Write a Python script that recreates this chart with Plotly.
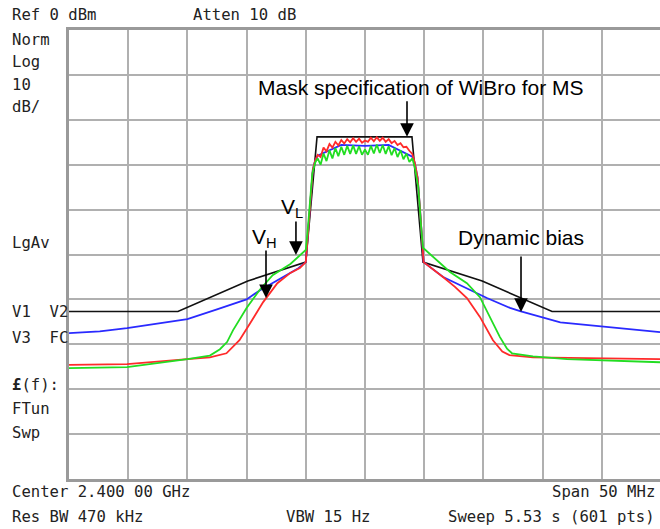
import plotly.graph_objects as go

# ---------------- data (MHz offset from 2.4 GHz, dBm) ----------------
mask_freq = [-25.0, -15.8, -9.9, -5.0, -4.05, 3.97, 4.9, 9.9, 15.8, 24.92]
mask_level = [-62.7, -62.7, -55.9, -51.7, -23.8, -23.8, -51.7, -55.9, -62.7, -62.7]

blue_freq = [-25.0, -22.4, -20.1, -18.2, -15.0, -12.5, -10.0, -8.9, -7.8, -6.9, -5.7, -5.0,
             -4.8, -4.6, -4.4, -4.2, -4.0, -2.0, 0.0, 2.0, 4.0, 4.2, 4.45, 4.65, 4.8,
             4.95, 6.6, 8.6, 10.3, 12.25, 13.1, 16.5, 19.85, 24.92]
blue_level = [-67.5, -67.1, -66.4, -65.7, -64.4, -62.2, -60.0, -58.0, -56.3, -55.0, -53.2, -51.7,
              -45.0, -37.0, -31.0, -29.0, -28.0, -25.6, -25.8, -25.6, -28.2, -29.5, -33.0, -40.0, -47.0,
              -51.7, -55.0, -57.5, -59.7, -61.9, -62.6, -65.1, -66.0, -67.3]

red_freq = [-25.0, -20.1, -15.0, -13.1, -11.7, -10.6, -9.7, -8.6, -7.4, -6.3, -5.5, -5.0,
            -4.8, -4.6, -4.4, -4.2,
            -4.00, -3.75, -3.50, -3.25, -3.00, -2.75, -2.50, -2.25, -2.00, -1.75, -1.50, -1.25,
            -1.00, -0.75, -0.50, -0.25, 0.00, 0.25, 0.50, 0.75, 1.00, 1.25, 1.50, 1.75,
            2.00, 2.25, 2.50, 2.75, 3.00, 3.25, 3.50, 3.75, 4.00,
            4.2, 4.45, 4.65, 4.8, 4.95, 6.59, 7.6, 8.61, 9.71, 10.81, 11.6, 12.2, 14.19, 24.92]
red_level = [-74.6, -74.4, -73.3, -72.9, -72.0, -69.1, -65.3, -60.6, -56.4, -54.1, -53.0, -51.7,
             -45.0, -37.0, -31.0, -29.0,
             -27.8, -28.3, -26.2, -27.0, -25.4, -26.2, -24.9, -25.7, -24.5, -25.3, -24.3, -25.0,
             -24.1, -24.9, -24.2, -25.1, -24.6, -24.9, -24.0, -24.8, -23.9, -24.7, -24.0, -24.9,
             -24.3, -25.2, -24.7, -25.6, -25.2, -26.1, -26.0, -26.9, -27.6,
             -29.5, -33.0, -40.0, -47.0, -51.7, -55.0, -57.2, -59.7, -63.9, -69.1, -71.6, -72.4, -72.9, -73.3]

green_freq = [-25.0, -20.1, -15.0, -13.1, -12.25, -11.65, -11.15, -10.0, -8.9, -7.8, -6.3, -5.3, -5.0,
              -4.85, -4.65, -4.45, -4.2,
              -4.00, -3.75, -3.50, -3.25, -3.00, -2.75, -2.50, -2.25, -2.00, -1.75, -1.50, -1.25,
              -1.00, -0.75, -0.50, -0.25, 0.00, 0.25, 0.50, 0.75, 1.00, 1.25, 1.50, 1.75,
              2.00, 2.25, 2.50, 2.75, 3.00, 3.25, 3.50, 3.75, 4.00,
              4.2, 4.5, 4.75, 4.9, 7.18, 8.61, 9.71, 10.56, 11.40, 12.0, 12.42, 14.19, 17.06, 24.92]
green_level = [-75.3, -75.1, -73.3, -72.5, -71.1, -69.5, -66.9, -61.9, -57.9, -54.6, -52.1, -49.7, -49.0,
               -45.0, -38.0, -32.0, -29.5,
               -28.6, -30.0, -27.5, -29.2, -26.8, -28.6, -26.3, -28.1, -26.0, -27.8, -25.8, -27.6,
               -25.7, -27.6, -25.9, -27.8, -26.6, -27.8, -25.8, -27.5, -25.5, -27.4, -25.6, -27.6,
               -25.9, -27.9, -26.3, -28.3, -26.8, -28.8, -27.5, -29.4, -28.6,
               -30.5, -35.0, -44.0, -48.5, -53.9, -56.4, -59.5, -63.9, -68.4, -71.0, -72.0, -72.7, -73.3, -74.0]

# ---------------- figure ----------------
W, H = 660, 529
ML, MR, MT, MB = 69, 0, 30, 50

fig = go.Figure()
fig.add_trace(go.Scatter(x=mask_freq, y=mask_level, mode="lines",
                         line=dict(color="#111111", width=1.6), hoverinfo="skip"))
fig.add_trace(go.Scatter(x=blue_freq, y=blue_level, mode="lines",
                         line=dict(color="#2a2aff", width=1.8), hoverinfo="skip"))
fig.add_trace(go.Scatter(x=red_freq, y=red_level, mode="lines",
                         line=dict(color="#ff2a2a", width=1.8), hoverinfo="skip"))
fig.add_trace(go.Scatter(x=green_freq, y=green_level, mode="lines",
                         line=dict(color="#22dd22", width=1.8), hoverinfo="skip"))

mono = dict(family="DejaVu Sans Mono", size=15.6, color="#222222")
sans = dict(family="Liberation Sans, Arial", size=21, color="#000000")

pw = W - ML - MR
ph = H - MT - MB


def px(xp, yp):
    return (xp - ML) / pw, (H - MB - yp) / ph


anns = []
left_labels = [("Ref 0 dBm", 10, 15), ("Atten 10 dB", 191, 15), ("Norm", 10, 40), ("Log", 10, 62),
               ("10", 10, 85), ("dB/", 10, 107), ("LgAv", 10, 243), ("V1  V2", 10, 312),
               ("V3  FC", 10, 338), ("<b>£</b>(f):", 10, 385), ("FTun", 10, 409), ("Swp", 10, 433),
               ("Center 2.400 00 GHz", 10, 492), ("Res BW 470 kHz", 10, 517)]
for t, xp, yp in left_labels:
    xx, yy = px(xp, yp)
    anns.append(dict(text=t, x=xx, y=yy, xref="paper", yref="paper", xanchor="left",
                     yanchor="middle", showarrow=False, font=mono))
for t, xp, yp in [("Span 50 MHz", 657, 492), ("Sweep 5.53 s (601 pts)", 657, 517)]:
    xx, yy = px(xp, yp)
    anns.append(dict(text=t, x=xx, y=yy, xref="paper", yref="paper", xanchor="right",
                     yanchor="middle", showarrow=False, font=mono))
xx, yy = px(328, 517)
anns.append(dict(text="VBW 15 Hz", x=xx, y=yy, xref="paper", yref="paper", xanchor="center",
                 yanchor="middle", showarrow=False, font=mono))

# in-plot labels
anns += [
    dict(text="Mask specification of WiBro for MS", x=4.73, y=-12.8, showarrow=False, font=sans),
    dict(text="Dynamic bias", x=13.2, y=-46.3, showarrow=False, font=sans),
    dict(text="V<sub>L</sub>", x=-6.2, y=-39.6, showarrow=False, font=sans),
    dict(text="V<sub>H</sub>", x=-8.45, y=-46.3, showarrow=False, font=sans),
]
for ax_x, tip_y, ay in [(3.55, -23.8, -37), (13.18, -62.8, -57), (-5.83, -50.1, -35), (-8.36, -59.7, -49)]:
    anns.append(dict(text="", x=ax_x, y=tip_y, ax=0, ay=ay, showarrow=True, arrowhead=2,
                     arrowsize=1.7, arrowwidth=1.6, arrowcolor="#000000", standoff=0))

fig.update_layout(
    width=W, height=H, margin=dict(l=ML, r=MR, t=MT, b=MB),
    paper_bgcolor="white", plot_bgcolor="white", showlegend=False,
    annotations=anns,
    xaxis=dict(range=[-25, 24.92], tick0=-25, dtick=5, showticklabels=False, ticks="",
               showgrid=True, gridcolor="#b0b0b0", gridwidth=1.6, zeroline=False,
               showline=True, linecolor="#9a9a9a", linewidth=3, mirror=True),
    yaxis=dict(range=[-100, 0], tick0=-100, dtick=10, showticklabels=False, ticks="",
               showgrid=True, gridcolor="#b0b0b0", gridwidth=1.6, zeroline=False,
               showline=True, linecolor="#9a9a9a", linewidth=3, mirror=False),
)

fig.write_html("out.html", config={"displayModeBar": False},
               post_script="document.body.style.margin='0';document.body.style.overflow='hidden';")
